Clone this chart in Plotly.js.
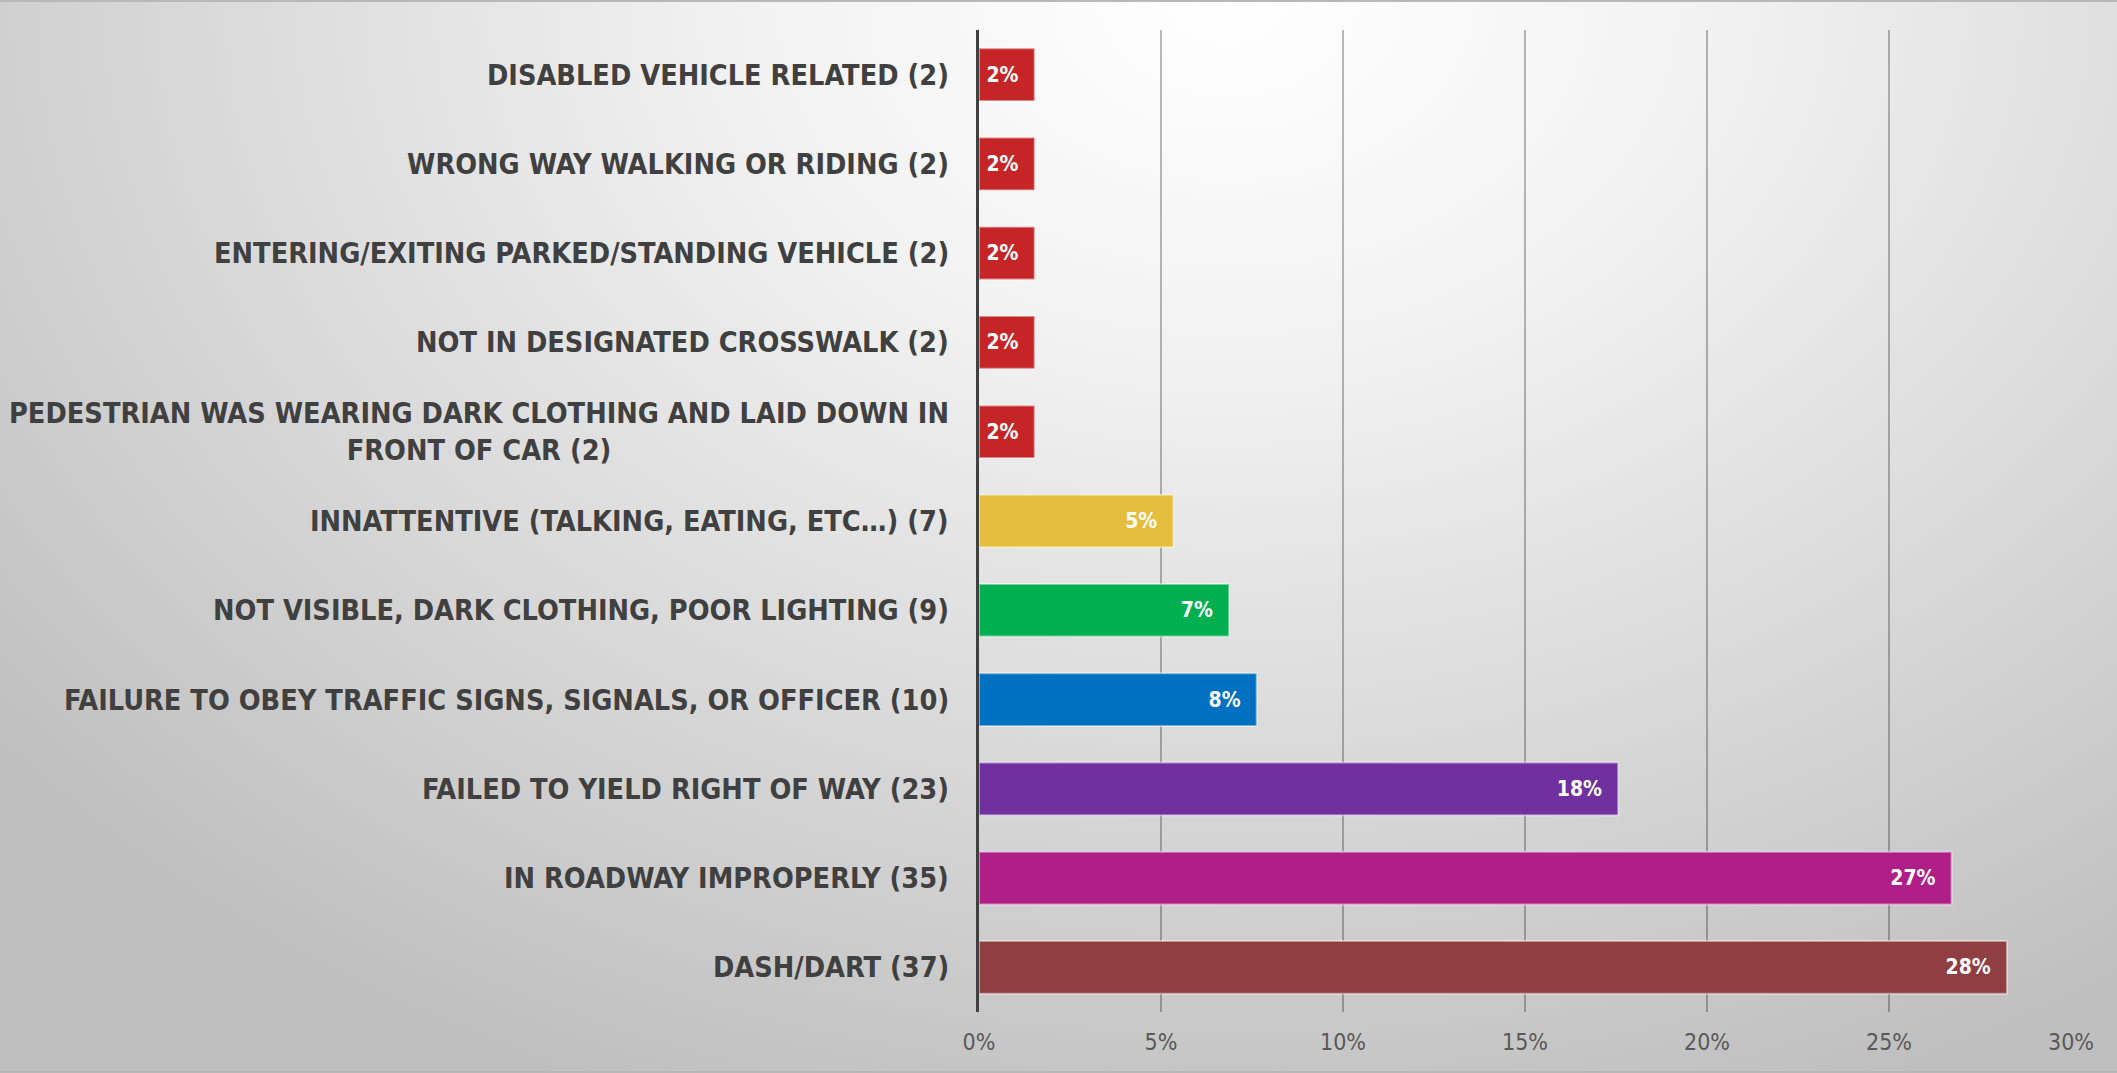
<!DOCTYPE html>
<html>
<head>
<meta charset="utf-8">
<script src="https://cdn.plot.ly/plotly-3.0.1.min.js"></script>
<style>
  html, body { margin: 0; padding: 0; }
  body {
    width: 2117px; height: 1073px; overflow: hidden;
    background: radial-gradient(ellipse 75% 110% at 58% 0%, #ffffff 0%, #f2f2f2 30%, #d9d9d9 65%, #bfbfbf 100%);
  }
  #frame {
    position: absolute; left: 0; top: 0; width: 2117px; height: 1073px;
    box-sizing: border-box; border-top: 2px solid #b8b8b8; border-bottom: 2px solid #b8b8b8;
  }
  #chart { position: absolute; left: 0; top: 0; width: 2117px; height: 1073px; }
</style>
</head>
<body>
<div id="frame"></div>
<div id="chart"></div>
<script>
// Categories listed top to bottom
const categories = [
  "DISABLED VEHICLE RELATED (2)",
  "WRONG WAY WALKING OR RIDING (2)",
  "ENTERING/EXITING PARKED/STANDING VEHICLE (2)",
  "NOT IN DESIGNATED CROSSWALK (2)",
  "PEDESTRIAN WAS WEARING DARK CLOTHING AND LAID DOWN IN<br>FRONT OF CAR (2)",
  "INNATTENTIVE (TALKING, EATING, ETC…) (7)",
  "NOT VISIBLE, DARK CLOTHING, POOR LIGHTING (9)",
  "FAILURE TO OBEY TRAFFIC SIGNS, SIGNALS, OR OFFICER (10)",
  "FAILED TO YIELD RIGHT OF WAY (23)",
  "IN ROADWAY IMPROPERLY (35)",
  "DASH/DART (37)"
];
const shares = [0.0153, 0.0153, 0.0153, 0.0153, 0.0153, 0.0534, 0.0687, 0.0763, 0.1756, 0.2672, 0.2824];
const barColors = ["#C62528", "#C62528", "#C62528", "#C62528", "#C62528", "#E6BE3D", "#00B050", "#0070C0", "#7030A0", "#B01F87", "#8F3E42"];
const tickVals = [0, 0.05, 0.10, 0.15, 0.20, 0.25, 0.30];
const tickText = ["0%", "5%", "10%", "15%", "20%", "25%", "30%"];

const FONT = "'Liberation Sans Narrow', 'DejaVu Sans Condensed', 'Arial Narrow', sans-serif";

const trace = {
  type: "bar",
  orientation: "h",
  y: categories,
  x: shares,
  marker: { color: barColors, line: { color: "rgba(255,255,255,0.45)", width: 2 } },
  texttemplate: "%{x:.0%}\u00a0\u00a0",
  textposition: "inside",
  insidetextanchor: "end",
  textangle: 0,
  insidetextfont: { family: FONT, size: 21, color: "#ffffff", weight: "bold" },
  hoverinfo: "skip"
};

const annotations = categories.map((c) => ({
  xref: "paper", yref: "y", x: 0, y: c,
  xanchor: "right", yanchor: "middle", xshift: -28,
  text: c, showarrow: false, align: "center",
  font: { family: FONT, size: 28.6, color: "#404040", weight: "bold" }
}));

const layout = {
  width: 2117, height: 1073,
  paper_bgcolor: "rgba(0,0,0,0)",
  plot_bgcolor: "rgba(0,0,0,0)",
  margin: { l: 979, r: 46, t: 30, b: 61 },
  bargap: 0.41,
  showlegend: false,
  xaxis: {
    range: [0, 0.3],
    tickvals: tickVals, ticktext: tickText,
    showgrid: true, gridcolor: "rgba(0,0,0,0.27)", gridwidth: 2,
    zeroline: false, showline: false, ticks: "",
    tickfont: { family: FONT, size: 23, color: "#595959" },
    ticklabelstandoff: 14
  },
  yaxis: {
    type: "category",
    autorange: "reversed",
    showticklabels: false,
    showgrid: false, zeroline: false,
    showline: true, linecolor: "#404040", linewidth: 3, ticks: ""
  },
  annotations: annotations
};

Plotly.newPlot("chart", [trace], layout, { staticPlot: true, displayModeBar: false });
</script>
</body>
</html>
